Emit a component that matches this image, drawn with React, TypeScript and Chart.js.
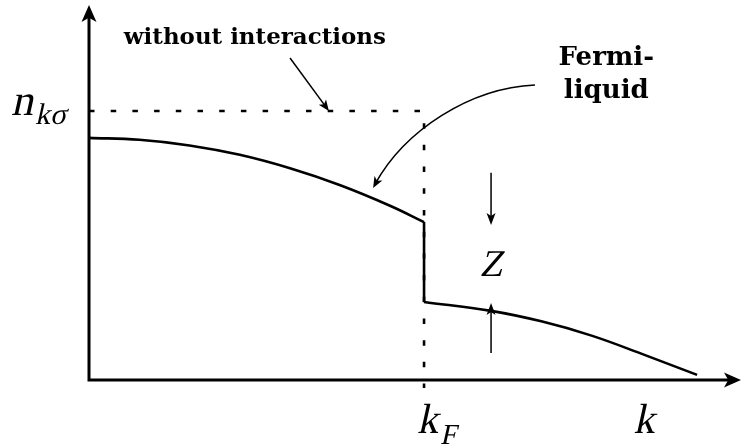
import React, { useEffect, useRef } from "react";
import { Chart, registerables } from "chart.js";

Chart.register(...registerables);

// Momentum distribution n_kσ of an interacting Fermi liquid (k in units of k_F)
const kUpper = [0, 0.15, 0.3, 0.45, 0.6, 0.75, 0.9, 1];
const nUpper = [0.9, 0.893, 0.872, 0.837, 0.787, 0.724, 0.647, 0.587];
const kLower = [1, 1.2, 1.35, 1.5, 1.65, 1.815];
const nLower = [0.29, 0.257, 0.218, 0.165, 0.097, 0.019];

// Free-fermion step: n = 1 below k_F
const kFree = [0, 1, 1];
const nFree = [1, 1, -0.03];

// Axis extents
const kMax = 1.946;
const nMax = 1.394;

// Text
const yLabelMain = "n";
const yLabelSub = "kσ";
const kFMain = "k";
const kFSub = "F";
const xLabel = "k";
const zLabel = "Z";
const freeLabel = "without interactions";
const fermiLabel = ["Fermi-", "liquid"];

const mathFont = "'Liberation Serif', 'Times New Roman', serif";

const pts = (xs: number[], ys: number[]) => xs.map((x, i) => ({ x, y: ys[i] }));

function arrowHead(
  ctx: CanvasRenderingContext2D,
  fx: number,
  fy: number,
  tx: number,
  ty: number,
  len: number,
  half: number
) {
  const a = Math.atan2(ty - fy, tx - fx);
  const c = Math.cos(a);
  const s = Math.sin(a);
  const bx = tx - c * len;
  const by = ty - s * len;
  ctx.beginPath();
  ctx.moveTo(tx, ty);
  ctx.lineTo(bx - s * half, by + c * half);
  ctx.lineTo(tx - c * len * 0.75, ty - s * len * 0.75);
  ctx.lineTo(bx + s * half, by - c * half);
  ctx.closePath();
  ctx.fill();
}

// slanted serif text for math symbols; returns advance width
function mathText(
  ctx: CanvasRenderingContext2D,
  text: string,
  x: number,
  y: number,
  size: number,
  align: CanvasTextAlign = "left"
) {
  ctx.save();
  ctx.font = `${size}px ${mathFont}`;
  ctx.textAlign = align;
  ctx.translate(x, y);
  ctx.transform(1, 0, -0.22, 1, 0, 0);
  ctx.fillText(text, 0, 0);
  const w = ctx.measureText(text).width;
  ctx.restore();
  return w;
}

const decorations = {
  id: "decorations",
  afterDatasetsDraw(chart: any) {
    const ctx: CanvasRenderingContext2D = chart.ctx;
    const X = (v: number) => chart.scales.x.getPixelForValue(v);
    const Y = (v: number) => chart.scales.y.getPixelForValue(v);
    const x0 = X(0);
    const y0 = Y(0);
    ctx.save();
    ctx.strokeStyle = "#000";
    ctx.fillStyle = "#000";

    // axes
    ctx.lineWidth = 3;
    ctx.lineCap = "butt";
    ctx.beginPath();
    ctx.moveTo(x0, y0 + 1.5);
    ctx.lineTo(X(0), Y(nMax) + 12);
    ctx.moveTo(x0 - 1.5, y0);
    ctx.lineTo(X(kMax) - 12, y0);
    ctx.stroke();
    arrowHead(ctx, x0, y0, X(0), Y(nMax), 17, 7.5);
    arrowHead(ctx, x0, y0, X(kMax), y0, 17, 7.5);

    // thin arrows
    ctx.lineWidth = 1.5;
    // "without interactions" pointer
    const wa = { x: X(0.6), y: Y(1.197) };
    const wb = { x: X(0.716), y: Y(1.0) };
    ctx.beginPath();
    ctx.moveTo(wa.x, wa.y);
    ctx.lineTo(wb.x - (wb.x - wa.x) * 0.12, wb.y - (wb.y - wa.y) * 0.12);
    ctx.stroke();
    arrowHead(ctx, wa.x, wa.y, wb.x, wb.y, 11, 4.5);

    // "Fermi-liquid" pointer
    const p0 = { x: X(1.331), y: Y(1.097) };
    const p1 = { x: X(1.137), y: Y(1.086) };
    const p2 = { x: X(0.943), y: Y(0.929) };
    const p3 = { x: X(0.848), y: Y(0.714) };
    ctx.beginPath();
    ctx.moveTo(p0.x, p0.y);
    ctx.bezierCurveTo(p1.x, p1.y, p2.x, p2.y, p3.x + 2, p3.y - 4);
    ctx.stroke();
    arrowHead(ctx, p2.x, p2.y, p3.x, p3.y, 11, 4.5);

    // Z arrows marking the jump at k_F
    const zx = X(1.2);
    const zTop = Y(0.77);
    const zHi = Y(nUpper[nUpper.length - 1]) + 3;
    const zLo = Y(nLower[0]) + 1;
    const zBot = Y(0.1);
    ctx.beginPath();
    ctx.moveTo(zx, zTop);
    ctx.lineTo(zx, zHi - 6);
    ctx.moveTo(zx, zBot);
    ctx.lineTo(zx, zLo + 6);
    ctx.stroke();
    arrowHead(ctx, zx, zTop, zx, zHi, 12, 4.5);
    arrowHead(ctx, zx, zBot, zx, zLo, 12, 4.5);

    // text labels
    ctx.textBaseline = "alphabetic";
    ctx.textAlign = "center";
    ctx.font = "bold 23px 'DejaVu Serif'";
    ctx.fillText(freeLabel, X(0.495), Y(1.25), 262);
    ctx.font = "bold 26px 'DejaVu Serif'";
    ctx.fillText(fermiLabel[0], X(1.544), Y(1.171));
    ctx.fillText(fermiLabel[1], X(1.544), Y(1.048));
    ctx.restore();

    // math symbols
    ctx.save();
    ctx.fillStyle = "#000";
    ctx.textBaseline = "alphabetic";
    mathText(ctx, zLabel, zx, Y(0.385), 38, "center");
    const nw = mathText(ctx, yLabelMain, 11, Y(0.985), 44);
    mathText(ctx, yLabelSub, 11 + nw + 2, Y(0.95), 30);
    const kw = mathText(ctx, kFMain, X(0.985) - 2, y0 + 53, 42);
    mathText(ctx, kFSub, X(0.985) + kw, y0 + 64, 29);
    mathText(ctx, xLabel, X(1.625), y0 + 53, 42);
    ctx.restore();
  },
};

export default function App() {
  const ref = useRef<HTMLCanvasElement>(null);

  useEffect(() => {
    if (!ref.current) return;
    const line = {
      borderColor: "#000",
      pointRadius: 0,
      borderCapStyle: "butt" as const,
      fill: false,
      clip: false as any,
    };
    const chart = new Chart(ref.current, {
      type: "line",
      data: {
        datasets: [
          {
            ...line,
            label: "free",
            data: pts(kFree, nFree),
            borderWidth: 2.6,
            borderDash: [5.5, 16.2],
            tension: 0,
          },
          {
            ...line,
            label: "upper",
            data: pts(kUpper, nUpper),
            borderWidth: 2.6,
            tension: 0.4,
          },
          {
            ...line,
            label: "jump",
            data: pts([1, 1], [nUpper[nUpper.length - 1], nLower[0]]),
            borderWidth: 2.6,
            tension: 0,
          },
          {
            ...line,
            label: "lower",
            data: pts(kLower, nLower),
            borderWidth: 2.6,
            tension: 0.4,
          },
        ],
      },
      options: {
        animation: false,
        responsive: true,
        maintainAspectRatio: false,
        layout: { padding: { left: 89, right: 0, top: 5, bottom: 68 } },
        plugins: { legend: { display: false }, tooltip: { enabled: false } },
        events: [],
        scales: {
          x: { type: "linear", min: 0, max: kMax, display: false },
          y: { type: "linear", min: 0, max: nMax, display: false },
        },
      },
      plugins: [decorations],
    });
    return () => chart.destroy();
  }, []);

  return (
    <div
      style={{
        position: "absolute",
        left: 0,
        top: 0,
        width: 741,
        height: 448,
        background: "#fff",
      }}
    >
      <canvas ref={ref} />
    </div>
  );
}
